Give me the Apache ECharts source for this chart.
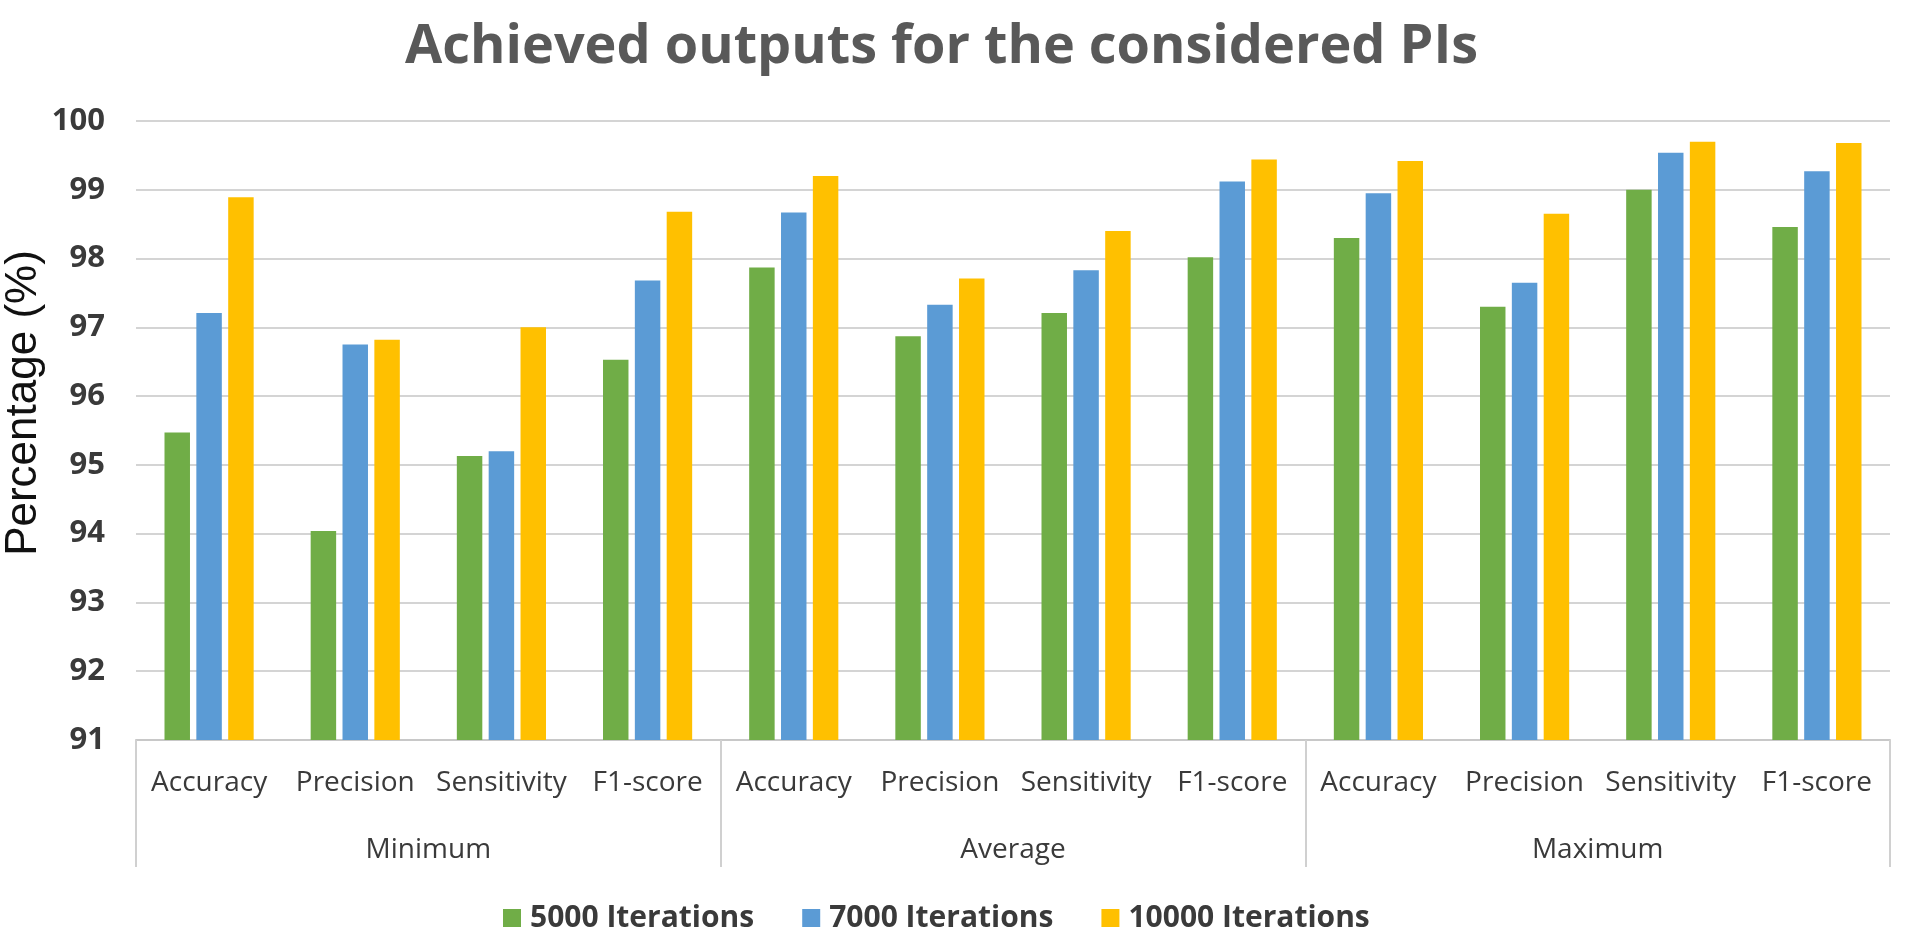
<!DOCTYPE html>
<html>
<head>
<meta charset="utf-8">
<script src="https://cdn.jsdelivr.net/npm/echarts@6/dist/echarts.min.js"></script>
<style>
  html, body { margin: 0; padding: 0; background: #fff; }
  #main { width: 1906px; height: 935px; }
</style>
</head>
<body>
<div id="main"></div>
<script>
var metrics = ['Accuracy', 'Precision', 'Sensitivity', 'F1-score'];
var groups = ['Minimum', 'Average', 'Maximum'];
var seriesNames = ['5000 Iterations', '7000 Iterations', '10000 Iterations'];
var yTicks = [91, 92, 93, 94, 95, 96, 97, 98, 99, 100];

var iter5000 = [95.47, 94.04, 95.13, 96.53, 97.87, 96.87, 97.21, 98.02, 98.30, 97.30, 99.00, 98.46];
var iter7000 = [97.21, 96.75, 95.20, 97.68, 98.67, 97.33, 97.83, 99.12, 98.95, 97.65, 99.54, 99.27];
var iter10000 = [98.89, 96.82, 97.00, 98.68, 99.20, 97.71, 98.40, 99.44, 99.42, 98.65, 99.70, 99.68];

var colors = ['#70AD47', '#5B9BD5', '#FFC000'];

// 12 sub categories: each metric repeated under every group
var subLabels = [];
groups.forEach(function () {
  metrics.forEach(function (m) { subLabels.push(m); });
});

var chart = echarts.init(document.getElementById('main'));

var labelFont = { fontFamily: 'Open Sans', fontSize: 28, color: '#3a3a3a' };

var option = {
  animation: false,
  color: colors,
  title: {
    text: 'Achieved outputs for the considered PIs',
    left: 405,
    top: 21,
    padding: 0,
    textStyle: { fontFamily: 'Open Sans', fontSize: 54, fontWeight: 'bold', color: '#595959' }
  },
  legend: {
    data: seriesNames,
    left: 503,
    top: 903,
    padding: 0,
    icon: 'rect',
    itemWidth: 18,
    itemHeight: 18,
    itemGap: 48,
    textStyle: { fontFamily: 'Open Sans', fontSize: 30, fontWeight: 'bold', color: '#3a3a3a', padding: [0, 0, 0, 4] }
  },
  grid: {
    left: 136,
    right: 16,
    top: 121,
    bottom: 195
  },
  graphic: [{
    type: 'text',
    x: 24,
    y: 403,
    rotation: Math.PI / 2,
    style: {
      text: 'Percentage (%)',
      font: '44px "Liberation Sans"',
      fill: '#111',
      textAlign: 'center',
      textVerticalAlign: 'middle'
    }
  }],
  xAxis: [
    {
      type: 'category',
      data: subLabels,
      axisTick: { show: false },
      axisLine: { lineStyle: { color: '#C8C8C8', width: 2 } },
      axisLabel: Object.assign({ interval: 0, margin: 29 }, labelFont)
    },
    {
      type: 'category',
      data: groups,
      position: 'bottom',
      axisLine: { show: false },
      axisTick: { show: true, length: 127, interval: 0, lineStyle: { color: '#D0D0D0', width: 2 } },
      axisLabel: Object.assign({ interval: 0, margin: 96 }, labelFont),
      splitLine: { show: false }
    }
  ],
  yAxis: {
    type: 'value',
    min: yTicks[0],
    max: yTicks[yTicks.length - 1],
    interval: 1,
    axisLine: { show: false },
    axisTick: { show: false },
    axisLabel: { margin: 31, fontFamily: 'Open Sans', fontSize: 31, fontWeight: 'bold', color: '#3a3a3a' },
    splitLine: { lineStyle: { color: '#D4D4D4', width: 2 } }
  },
  series: [
    { name: seriesNames[0], type: 'bar', xAxisIndex: 0, data: iter5000, barGap: '25%', barCategoryGap: '39%' },
    { name: seriesNames[1], type: 'bar', xAxisIndex: 0, data: iter7000, barGap: '25%', barCategoryGap: '39%' },
    { name: seriesNames[2], type: 'bar', xAxisIndex: 0, data: iter10000, barGap: '25%', barCategoryGap: '39%' }
  ]
};

chart.setOption(option);
</script>
</body>
</html>
